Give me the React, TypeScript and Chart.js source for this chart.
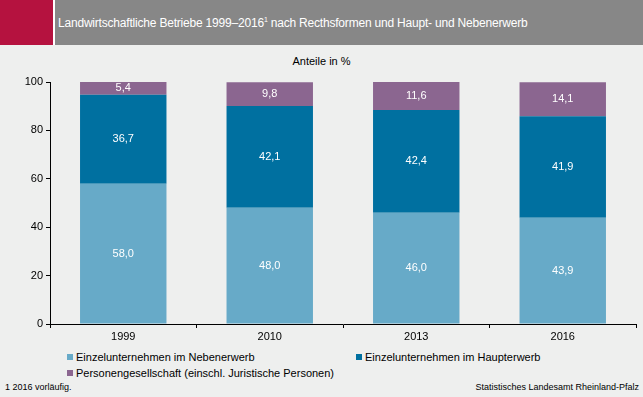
import React, { useEffect, useRef } from "react";
import { Chart, registerables } from "chart.js";

Chart.register(...registerables);

const categories = ["1999", "2010", "2013", "2016"];
const nebenerwerb = [58.0, 48.0, 46.0, 43.9];
const haupterwerb = [36.7, 42.1, 42.4, 41.9];
const personen = [5.4, 9.8, 11.6, 14.1];
const yTicks = [0, 20, 40, 60, 80, 100];
const seriesNames = [
  "Einzelunternehmen im Nebenerwerb",
  "Einzelunternehmen im Haupterwerb",
  "Personengesellschaft (einschl. Juristische Personen)",
];
const colors = ["#67aac8", "#0070a0", "#8b6690"];

const FONT = "'Liberation Sans', Arial, sans-serif";
const BG = "#eeefee";

const labelPlugin = {
  id: "segLabels",
  afterDatasetsDraw(chart: any) {
    const ctx = chart.ctx;
    ctx.save();
    ctx.font = `11px ${FONT}`;
    ctx.fillStyle = "#ffffff";
    ctx.textAlign = "center";
    ctx.textBaseline = "middle";
    chart.data.datasets.forEach((ds: any, di: number) => {
      const meta = chart.getDatasetMeta(di);
      meta.data.forEach((bar: any, i: number) => {
        const v = ds.data[i];
        const y = (bar.y + bar.base) / 2;
        ctx.fillText(v.toFixed(1).replace(".", ","), bar.x, y);
      });
    });
    ctx.restore();
  },
};

export default function App() {
  const ref = useRef<HTMLCanvasElement>(null);
  useEffect(() => {
    document.body.style.margin = "0";
    document.body.style.background = BG;
    const chart = new Chart(ref.current!, {
      type: "bar",
      data: {
        labels: categories,
        datasets: [
          { label: seriesNames[0], data: nebenerwerb, backgroundColor: colors[0] },
          { label: seriesNames[1], data: haupterwerb, backgroundColor: colors[1] },
          { label: seriesNames[2], data: personen, backgroundColor: colors[2] },
        ],
      },
      options: {
        animation: false,
        responsive: false,
        maintainAspectRatio: false,
        layout: { padding: { top: 37, right: 7, left: 0, bottom: 0 } },
        datasets: { bar: { categoryPercentage: 1, barPercentage: 0.59 } },
        plugins: { legend: { display: false }, tooltip: { enabled: false }, title: { display: false } },
        scales: {
          x: {
            stacked: true,
            offset: true,
            border: { display: true, color: "#000", width: 1 },
            grid: { offset: true, drawOnChartArea: false, drawTicks: true, tickLength: 4, color: "#000" },
            ticks: { color: "#000", font: { family: FONT, size: 11 }, padding: 2 },
            afterFit: (s: any) => { s.height = 21; },
          },
          y: {
            stacked: true,
            min: 0,
            max: 100,
            border: { display: true, color: "#000", width: 1 },
            grid: { drawOnChartArea: false, drawTicks: true, tickLength: 4, color: "#000" },
            afterBuildTicks: (s: any) => { s.ticks = yTicks.map((v) => ({ value: v })); },
            ticks: { color: "#000", font: { family: FONT, size: 11 }, padding: 3 },
            afterFit: (s: any) => { s.width = 50; },
          },
        },
      },
      plugins: [labelPlugin],
    } as any);
    return () => chart.destroy();
  }, []);

  const legendItem = (i: number, left: number, top: number) => (
    <div style={{ position: "absolute", left, top, display: "flex", alignItems: "center", fontSize: 11, color: "#000" }}>
      <span style={{ display: "inline-block", width: 6, height: 6, background: colors[i], marginRight: 3 }} />
      <span>{seriesNames[i]}</span>
    </div>
  );

  return (
    <div style={{ position: "absolute", left: 0, top: 0, width: 643, height: 397, background: BG, fontFamily: FONT, overflow: "hidden" }}>
      <div style={{ position: "absolute", left: 0, top: 0, width: 53, height: 45, background: "#b5123f" }} />
      <div style={{ position: "absolute", left: 53, top: 0, width: 2, height: 45, background: "#ffffff" }} />
      <div style={{ position: "absolute", left: 55, top: 0, width: 588, height: 45, background: "#878787" }} />
      <div style={{ position: "absolute", left: 58, top: 16, fontSize: 12, color: "#ffffff", whiteSpace: "nowrap", letterSpacing: -0.2 }}>
        Landwirtschaftliche Betriebe 1999–2016<sup style={{ fontSize: 7 }}>1</sup> nach Recthsformen und Haupt- und Nebenerwerb
      </div>
      <div style={{ position: "absolute", left: 0, width: 643, top: 55, textAlign: "center", fontSize: 11, color: "#000" }}>
        Anteile in %
      </div>
      <canvas ref={ref} width={643} height={300} style={{ position: "absolute", left: 0, top: 45 }} />
      {legendItem(0, 67, 351)}
      {legendItem(1, 356, 351)}
      {legendItem(2, 67, 367)}
      <div style={{ position: "absolute", left: 5, top: 382, fontSize: 9, color: "#000" }}>1 2016 vorläufig.</div>
      <div style={{ position: "absolute", right: 4, top: 382, fontSize: 9, color: "#000" }}>Statistisches Landesamt Rheinland-Pfalz</div>
    </div>
  );
}
